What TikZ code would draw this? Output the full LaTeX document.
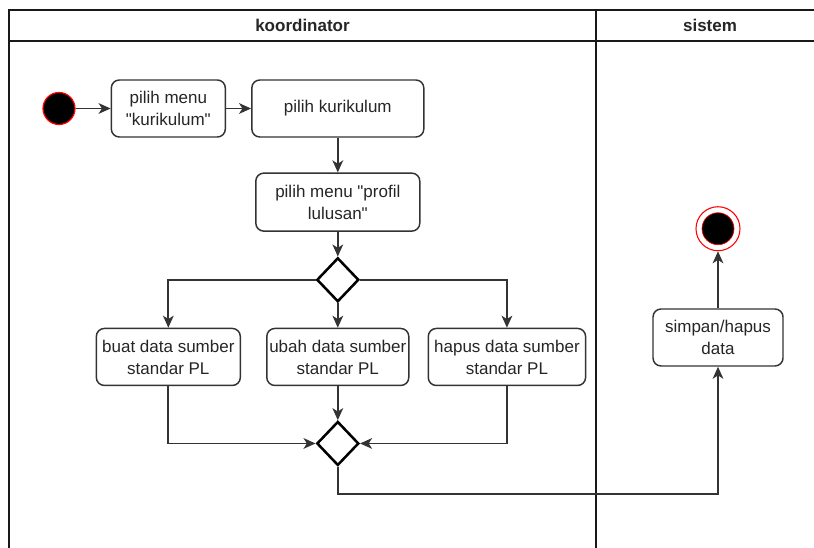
\documentclass[tikz,border=0pt]{standalone}
\usepackage{fontspec}
\setmainfont{Liberation Sans}
\usetikzlibrary{arrows.meta,positioning,shapes.geometric}
\definecolor{actink}{HTML}{262626}
\definecolor{actline}{HTML}{333333}
\definecolor{actred}{HTML}{FF0000}
\tikzset{
  act/.style={font=\fontsize{12.75}{16.5}\selectfont, text=actink},
  actbox/.style={draw=actline, rounded corners=6pt, align=center,
    inner sep=1pt, line width=1.1pt, fill=white, minimum height=42.75pt},
  actdec/.style={diamond, draw=black, line width=1.9pt, inner sep=0pt,
    minimum width=31.5pt, minimum height=33pt},
  actarr/.style={-{Stealth[length=9pt,width=8pt,inset=2.5pt]}, line width=1.3pt, draw=actline},
  actstart/.style={circle, fill=black, draw=actred, line width=0.9pt,
    minimum size=24pt, inner sep=0pt},
  actend/.style={circle, fill=white, draw=actred, line width=0.8pt,
    minimum size=33pt, inner sep=0pt,
    path picture={\draw[actred, fill=black, line width=0.5pt]
      (path picture bounding box.center) circle (12pt);}},
  lanehead/.style={font=\bfseries\fontsize{12.75}{15}\selectfont, text=actink},
  laneline/.style={draw=black!90, line width=1.1pt},
}
\newcommand{\q}{\textquotedbl}

\begin{document}
\begin{tikzpicture}[act, x=0.75pt, y=-0.75pt]
  \useasboundingbox (0,0) rectangle (814,548);
  \draw[laneline] (9,548) |- (814,10);
  \draw[laneline] (9,41) -- (814,41);
  \draw[laneline] (596,10) -- (596,548);
  \node[lanehead] (koord) at (302.5,25.5) {koordinator};
  \node[lanehead] (sistem) at (710,25.5) {sistem};

  \node[actstart] (start) at (59,108.5) {};
  \node[actbox, minimum width=85.5pt, right=26.25pt of start] (menukur) {pilih menu\\\q kurikulum\q};
  \node[actbox, minimum width=129pt, right=18.75pt of menukur] (kurikulum) {pilih kurikulum};
  \node[actbox, minimum width=123pt, minimum height=43.5pt, below=26pt of kurikulum] (menuprofil) {pilih menu \q profil\\lulusan\q};
  \node[actdec, below=18.5pt of menuprofil] (pilih) {};
  \node[actbox, minimum width=106.5pt, below=18.5pt of pilih] (ubah) {ubah data sumber\\standar PL};
  \node[actbox, minimum width=108pt, left=18.75pt of ubah] (buat) {buat data sumber\\standar PL};
  \node[actbox, minimum width=118pt, right=13.5pt of ubah] (hapus) {hapus data sumber\\standar PL};
  \node[actdec, below=25.5pt of ubah] (gabung) {};
  \node[actbox, minimum width=97.5pt] (simpan) at (718,337.5) {simpan/hapus\\data};
  \node[actend, above=42.75pt of simpan] (end) {};

  \draw[actarr] (start) -- (menukur);
  \draw[actarr] (menukur) -- (kurikulum);
  \draw[actarr] (kurikulum) -- (menuprofil);
  \draw[actarr] (menuprofil) -- (pilih);
  \draw[actarr] (pilih.west) -| (buat.north);
  \draw[actarr] (pilih) -- (ubah);
  \draw[actarr] (pilih.east) -| (hapus.north);
  \draw[actarr] (buat.south) |- (gabung.west);
  \draw[actarr, line width=1.6pt] (ubah) -- (gabung);
  \draw[actarr] (hapus.south) |- (gabung.east);
  \draw[actarr] (gabung.south) -- ++(0,27) -| (simpan.south);
  \draw[actarr] (simpan) -- (end);
\end{tikzpicture}
\end{document}
